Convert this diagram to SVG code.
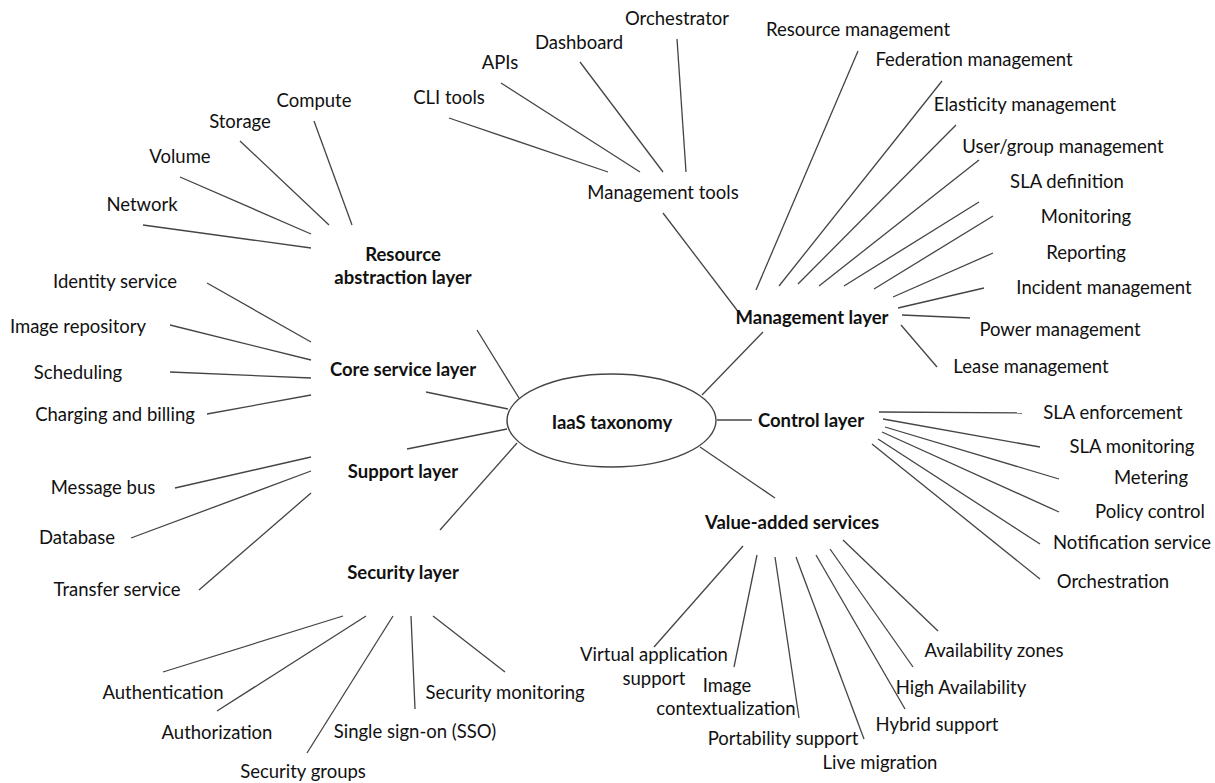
<svg xmlns="http://www.w3.org/2000/svg" width="1215" height="783" viewBox="0 0 1215 783">
  <style>
    text { font-family: Lato, "Open Sans", "Liberation Sans", sans-serif; font-size: 18.5px; fill: #111; text-anchor: middle; }
    .b { font-weight: bold; }
    .c line { stroke: #444; stroke-width: 1.3; }
    ellipse { fill: #fff; stroke: #444; stroke-width: 1.4; }
  </style>
  <rect width="1215" height="783" fill="#fff"/>

  <!-- connectors -->
  <g class="c" id="connectors">
    <!-- root to layers -->
    <line x1="477" y1="330" x2="519" y2="398"/>
    <line x1="426" y1="392" x2="508" y2="409"/>
    <line x1="407" y1="449" x2="507" y2="429"/>
    <line x1="440" y1="530" x2="517" y2="443"/>
    <line x1="702" y1="395" x2="763" y2="332"/>
    <line x1="717" y1="420" x2="752" y2="420"/>
    <line x1="700" y1="447" x2="775" y2="498"/>
    <!-- resource abstraction layer -->
    <line x1="314" y1="121" x2="352" y2="225"/>
    <line x1="240" y1="141" x2="329" y2="225"/>
    <line x1="180" y1="177" x2="311" y2="234"/>
    <line x1="143" y1="225" x2="311" y2="248"/>
    <!-- core service layer -->
    <line x1="207" y1="283" x2="311" y2="342"/>
    <line x1="170" y1="325" x2="311" y2="360"/>
    <line x1="170" y1="372" x2="311" y2="378"/>
    <line x1="207" y1="414" x2="311" y2="395"/>
    <!-- support layer -->
    <line x1="175" y1="488" x2="311" y2="457"/>
    <line x1="131" y1="538" x2="311" y2="471"/>
    <line x1="199" y1="590" x2="311" y2="493"/>
    <!-- security layer -->
    <line x1="343" y1="616" x2="163" y2="672"/>
    <line x1="366" y1="616" x2="217" y2="711"/>
    <line x1="393" y1="616" x2="307" y2="753"/>
    <line x1="411" y1="616" x2="415" y2="709"/>
    <line x1="433" y1="616" x2="505" y2="672"/>
    <!-- management tools -->
    <line x1="677" y1="39" x2="686" y2="172"/>
    <line x1="580" y1="62" x2="663" y2="172"/>
    <line x1="501" y1="83" x2="640" y2="172"/>
    <line x1="449" y1="118" x2="608" y2="172"/>
    <line x1="663" y1="213" x2="743" y2="318"/>
    <!-- management layer -->
    <line x1="858" y1="51" x2="756" y2="290"/>
    <line x1="942" y1="81" x2="779" y2="286"/>
    <line x1="956" y1="125" x2="798" y2="284"/>
    <line x1="979" y1="160" x2="819" y2="286"/>
    <line x1="979" y1="202" x2="844" y2="286"/>
    <line x1="993" y1="216" x2="874" y2="289"/>
    <line x1="993" y1="253" x2="893" y2="297"/>
    <line x1="984" y1="288" x2="898" y2="308"/>
    <line x1="970" y1="318" x2="902" y2="315"/>
    <line x1="937" y1="367" x2="901" y2="325"/>
    <!-- control layer -->
    <line x1="879" y1="412" x2="1022" y2="413"/>
    <line x1="883" y1="419" x2="1040" y2="447"/>
    <line x1="885" y1="427" x2="1059" y2="479"/>
    <line x1="882" y1="432" x2="1059" y2="512"/>
    <line x1="878" y1="439" x2="1040" y2="544"/>
    <line x1="872" y1="444" x2="1040" y2="579"/>
    <!-- value-added services -->
    <line x1="743" y1="546" x2="654" y2="647"/>
    <line x1="757" y1="555" x2="734" y2="667"/>
    <line x1="775" y1="557" x2="799" y2="718"/>
    <line x1="796" y1="557" x2="864" y2="739"/>
    <line x1="816" y1="555" x2="905" y2="709"/>
    <line x1="830" y1="549" x2="913" y2="667"/>
    <line x1="843" y1="540" x2="938" y2="631"/>
  </g>

  <g id="root">
    <ellipse cx="611.5" cy="420.5" rx="104.5" ry="46.5"/>
    <text class="b" x="612" y="429">IaaS taxonomy</text>
  </g>

  <g id="resource-abstraction-layer">
    <text class="b" x="403" y="261">Resource</text>
    <text class="b" x="403" y="284">abstraction layer</text>
  </g>
  <g id="core-service-layer"><text class="b" x="403" y="376">Core service layer</text></g>
  <g id="support-layer"><text class="b" x="403" y="478">Support layer</text></g>
  <g id="security-layer"><text class="b" x="403" y="579">Security layer</text></g>
  <g id="management-layer"><text class="b" x="812" y="324">Management layer</text></g>
  <g id="control-layer"><text class="b" x="811" y="427">Control layer</text></g>
  <g id="value-added-services"><text class="b" x="792" y="529">Value-added services</text></g>
  <g id="management-tools"><text x="663" y="199">Management tools</text></g>

  <g id="resource-items">
    <text x="314" y="107">Compute</text>
    <text x="240" y="128">Storage</text>
    <text x="180" y="163">Volume</text>
    <text x="142" y="211">Network</text>
  </g>
  <g id="core-items">
    <text x="115" y="288">Identity service</text>
    <text x="78" y="333">Image repository</text>
    <text x="78" y="379">Scheduling</text>
    <text x="115" y="421">Charging and billing</text>
  </g>
  <g id="support-items">
    <text x="103" y="494">Message bus</text>
    <text x="77" y="544">Database</text>
    <text x="117" y="596">Transfer service</text>
  </g>
  <g id="security-items">
    <text x="163" y="699">Authentication</text>
    <text x="217" y="739">Authorization</text>
    <text x="303" y="778">Security groups</text>
    <text x="415" y="738">Single sign-on (SSO)</text>
    <text x="505" y="699">Security monitoring</text>
  </g>
  <g id="tool-items">
    <text x="677" y="25">Orchestrator</text>
    <text x="579" y="49">Dashboard</text>
    <text x="500" y="69">APIs</text>
    <text x="449" y="104">CLI tools</text>
  </g>
  <g id="management-items">
    <text x="858" y="36">Resource management</text>
    <text x="974" y="66">Federation management</text>
    <text x="1025" y="111">Elasticity management</text>
    <text x="1063" y="153">User/group management</text>
    <text x="1067" y="188">SLA definition</text>
    <text x="1086" y="223">Monitoring</text>
    <text x="1086" y="259">Reporting</text>
    <text x="1104" y="294">Incident management</text>
    <text x="1060" y="336">Power management</text>
    <text x="1031" y="373">Lease management</text>
  </g>
  <g id="control-items">
    <text x="1113" y="419">SLA enforcement</text>
    <text x="1132" y="453">SLA monitoring</text>
    <text x="1151" y="484">Metering</text>
    <text x="1150" y="518">Policy control</text>
    <text x="1132" y="549">Notification service</text>
    <text x="1113" y="588">Orchestration</text>
  </g>
  <g id="value-added-items">
    <text x="654" y="661">Virtual application</text>
    <text x="654" y="685">support</text>
    <text x="727" y="692">Image</text>
    <text x="726" y="715">contextualization</text>
    <text x="783" y="745">Portability support</text>
    <text x="880" y="769">Live migration</text>
    <text x="937" y="731">Hybrid support</text>
    <text x="961" y="694">High Availability</text>
    <text x="994" y="657">Availability zones</text>
  </g>
</svg>
